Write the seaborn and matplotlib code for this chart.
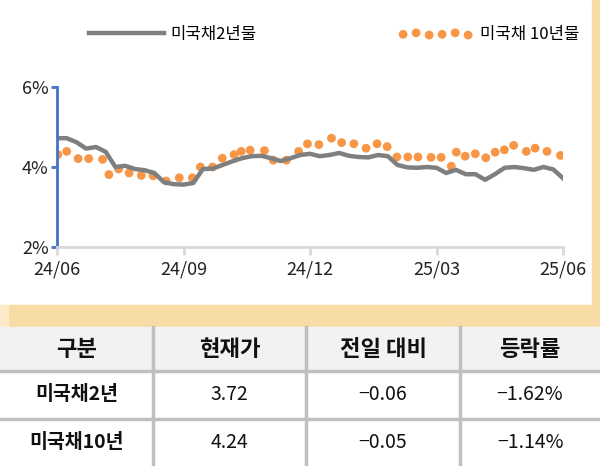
import matplotlib

matplotlib.use("Agg")

import matplotlib.pyplot as plt
import pandas as pd
import seaborn as sns
from matplotlib.patches import Rectangle

plt.rcParams["font.family"] = ["Noto Sans CJK KR", "Noto Sans CJK JP", "Noto Sans CJK SC", "DejaVu Sans"]

# months since 2024-06
t2y = [i * 12 / 52 for i in range(53)]
y2y = [4.72, 4.72, 4.62, 4.46, 4.50, 4.38, 4.00, 4.03, 3.95, 3.92, 3.85, 3.62, 3.57,
       3.56, 3.60, 3.95, 3.96, 4.05, 4.14, 4.22, 4.27, 4.28, 4.22, 4.15, 4.22, 4.30,
       4.33, 4.27, 4.30, 4.35, 4.28, 4.25, 4.24, 4.30, 4.27, 4.05, 3.99, 3.98, 4.00,
       3.98, 3.85, 3.93, 3.82, 3.82, 3.68, 3.82, 3.98, 4.00, 3.97, 3.93, 4.00, 3.94, 3.72]
t10y = [0.02, 0.23, 0.50, 0.75, 1.08, 1.23, 1.46, 1.71, 2.00, 2.28, 2.59, 2.90, 3.21,
        3.40, 3.69, 3.92, 4.20, 4.37, 4.58, 4.92, 5.13, 5.44, 5.73, 5.94, 6.21, 6.51,
        6.75, 7.04, 7.33, 7.59, 7.83, 8.06, 8.32, 8.56, 8.87, 9.11, 9.35, 9.47, 9.68,
        9.92, 10.17, 10.39, 10.61, 10.83, 11.13, 11.34, 11.62, 11.94]
y10y = [4.31, 4.39, 4.21, 4.21, 4.19, 3.81, 3.95, 3.85, 3.79, 3.78, 3.65, 3.73, 3.73,
        4.00, 4.00, 4.22, 4.31, 4.39, 4.42, 4.41, 4.17, 4.17, 4.39, 4.58, 4.56, 4.72,
        4.61, 4.58, 4.47, 4.58, 4.51, 4.25, 4.25, 4.25, 4.24, 4.24, 4.02, 4.37, 4.27,
        4.33, 4.23, 4.37, 4.43, 4.54, 4.39, 4.47, 4.39, 4.29]
x_ticks = [0, 3, 6, 9, 12]
x_labels = ["24/06", "24/09", "24/12", "25/03", "25/06"]

headers = ["구분", "현재가", "전일 대비", "등락률"]
rows = [["미국채2년", "3.72", "−0.06", "−1.62%"],
        ["미국채10년", "4.24", "−0.05", "−1.14%"]]

W, H = 600, 466
fig = plt.figure(figsize=(6, 4.66), dpi=100)
beige = "#F7DDA5"
fig.patches.append(Rectangle((0, 0), 1, 1, transform=fig.transFigure, color="white", zorder=-3))
fig.patches.append(Rectangle((592 / W, 1 - 327 / H), 8 / W, 327 / H, transform=fig.transFigure,
                             color=beige, zorder=-2))
fig.patches.append(Rectangle((0, 1 - 327 / H), 1, 22 / H, transform=fig.transFigure,
                             color=beige, zorder=-2))
fig.patches.append(Rectangle((0, 1 - 327 / H), 8 / W, 22 / H, transform=fig.transFigure,
                             color="#FCEBCB", zorder=-1))

ax = fig.add_axes([57 / W, 1 - 247 / H, (563 - 57) / W, 160 / H])
ax.set_facecolor("none")
sns.lineplot(x=t2y, y=y2y, ax=ax, color="#7F7F7F", linewidth=3.2, label="미국채2년물")
sns.scatterplot(x=t10y, y=y10y, ax=ax, color="#F79646", s=40, edgecolor="none", label="미국채 10년물")
ax.set_xlim(0, 12)
ax.set_ylim(2, 6)
ax.set_yticks([2, 4, 6])
ax.set_yticklabels(["2%", "4%", "6%"], fontsize=13, color="#222222")
ax.set_xticks(x_ticks)
ax.set_xticklabels(x_labels, fontsize=13, color="#222222")
for s in ["top", "right"]:
    ax.spines[s].set_visible(False)
ax.spines["left"].set_color("#4472C4")
ax.spines["left"].set_linewidth(2)
ax.spines["bottom"].set_color("#D9D9D9")
ax.spines["bottom"].set_linewidth(2)
ax.tick_params(axis="y", color="#4472C4", width=2, length=4, pad=2)
ax.tick_params(axis="x", color="#D9D9D9", width=2, length=6, pad=4)
ax.legend(loc="center left", bbox_to_anchor=(25 / 506, 1.33), ncol=2, frameon=False,
          fontsize=12, handlelength=4.5, handletextpad=0.4, columnspacing=8.5,
          borderaxespad=0, scatterpoints=6)

# table
col_x = [0, 153, 306, 460, 600]
row_y = [327, 371, 419, 466]
fig.patches.append(Rectangle((0, 1 - 371 / H), 1, 44 / H, transform=fig.transFigure,
                             color="#F2F2F2", zorder=-1))
for y in row_y[1:3]:
    fig.add_artist(plt.Line2D([0, 1], [1 - y / H] * 2, color="#BFBFBF", lw=2.5))
for x in col_x[1:4]:
    fig.add_artist(plt.Line2D([x / W] * 2, [1 - row_y[0] / H, 0], color="#BFBFBF", lw=2.5))
for j, h in enumerate(headers):
    cx = (col_x[j] + col_x[j + 1]) / 2 / W
    fig.text(cx, 1 - (row_y[0] + row_y[1]) / 2 / H, h, ha="center", va="center",
             fontsize=16, fontweight="bold", color="#111111")
for i, r in enumerate(rows):
    cy = 1 - (row_y[i + 1] + row_y[i + 2]) / 2 / H
    for j, v in enumerate(r):
        cx = (col_x[j] + col_x[j + 1]) / 2 / W
        fig.text(cx, cy, v, ha="center", va="center", fontsize=14,
                 fontweight="bold" if j == 0 else "normal", color="#111111")

fig.savefig("out.png", dpi=100)
